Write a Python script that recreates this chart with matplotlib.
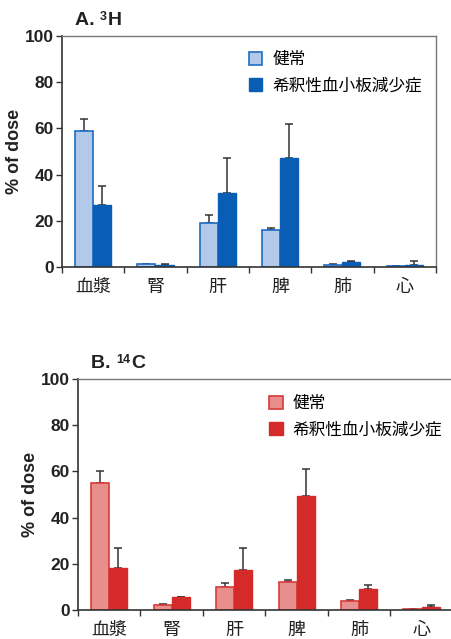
import matplotlib
matplotlib.use("Agg")
import matplotlib.pyplot as plt
import numpy as np

plt.rcParams['font.family'] = ['Liberation Sans', 'Noto Sans CJK SC', 'DejaVu Sans']

categories = ['血漿', '腎', '肝', '脾', '肺', '心']
series_names = ['健常', '希釈性血小板減少症']

h3_normal = [59, 1.2, 19, 16, 1.0, 0.3]
h3_normal_err = [5, 0.3, 3.5, 0.8, 0.5, 0.1]
h3_dilut = [27, 0.8, 32, 47, 2.0, 1.0]
h3_dilut_err = [8, 0.4, 15, 15, 0.7, 1.5]

c14_normal = [55, 2.3, 10, 12, 3.7, 0.3]
c14_normal_err = [5, 0.5, 1.5, 1.0, 0.6, 0.2]
c14_dilut = [18, 5.5, 17.5, 49.5, 9.0, 1.3]
c14_dilut_err = [9, 0.3, 9.5, 11.5, 2.0, 0.7]

yticks = [0, 20, 40, 60, 80, 100]

fig = plt.figure(figsize=(4.51, 6.39), dpi=100)

panels = [
    dict(rect=[0.1375, 0.582, 0.829, 0.3617], title=('A. ', '3', 'H'),
         a=h3_normal, ae=h3_normal_err, b=h3_dilut, be=h3_dilut_err,
         ca='#b3c9ea', ea='#1c6cc4', cb='#0a5db5', eb='#0a5db5', right=True,
         leg=(0.46, 1.0)),
    dict(rect=[0.173, 0.0454, 0.831, 0.3615], title=('B. ', '14', 'C'),
         a=c14_normal, ae=c14_normal_err, b=c14_dilut, be=c14_dilut_err,
         ca='#e88e8c', ea='#d63c3a', cb='#d52a2a', eb='#d52a2a', right=False,
         leg=(0.47, 0.995)),
]

x = np.arange(len(categories))
w = 0.29
for p in panels:
    ax = fig.add_axes(p['rect'])
    ax.bar(x - w/2, p['a'], w, color=p['ca'], edgecolor=p['ea'], linewidth=1.2,
           label=series_names[0], zorder=2)
    ax.bar(x + w/2, p['b'], w, color=p['cb'], edgecolor=p['eb'], linewidth=1.0,
           label=series_names[1], zorder=2)
    ax.errorbar(x - w/2, p['a'], yerr=[np.zeros(6), p['ae']], fmt='none',
                ecolor='#333333', elinewidth=1.1, capsize=3, capthick=1.1, zorder=1)
    ax.errorbar(x + w/2, p['b'], yerr=[np.zeros(6), p['be']], fmt='none',
                ecolor='#333333', elinewidth=1.1, capsize=3, capthick=1.1, zorder=1)
    ax.set_xlim(-0.5, len(categories) - 0.5)
    ax.set_ylim(0, 100)
    ax.set_yticks(yticks)
    ax.set_yticklabels([str(v) for v in yticks], fontsize=12.5, fontweight='bold',
                       color='#222222')
    ax.set_xticks(np.arange(len(categories) + 1) - 0.5)
    ax.set_xticklabels([])
    ax.set_xticks(x, minor=True)
    ax.set_xticklabels(categories, minor=True, fontsize=13,
                       family=['Noto Sans CJK JP', 'DejaVu Sans'], color='#222222')
    ax.tick_params(axis='x', which='minor', length=0, pad=8)
    ax.tick_params(axis='x', which='major', length=4, width=1, direction='out',
                   color='#333333')
    ax.tick_params(axis='y', length=4, width=1, direction='out', color='#333333', pad=2)
    ax.set_ylabel('% of dose', fontsize=13, fontweight='bold', color='#222222',
                  labelpad=1)
    for s in ['top', 'right']:
        ax.spines[s].set_color('#777777')
        ax.spines[s].set_linewidth(1.0)
    ax.spines['right'].set_visible(p['right'])
    ax.spines['left'].set_color('#333333')
    ax.spines['bottom'].set_color('#333333')
    ax.spines['left'].set_linewidth(1.2)
    ax.spines['bottom'].set_linewidth(1.2)
    # title with small superscript
    t1 = ax.text(0.035, 1.03, p['title'][0], transform=ax.transAxes, fontsize=14,
                 fontweight='bold', color='#222222', va='bottom', ha='left')
    fig.canvas.draw()
    bb = t1.get_window_extent().transformed(ax.transAxes.inverted())
    t2 = ax.text(bb.x1, 1.03 + 0.028, p['title'][1], transform=ax.transAxes,
                 fontsize=9, fontweight='bold', color='#222222', va='bottom', ha='left')
    fig.canvas.draw()
    bb2 = t2.get_window_extent().transformed(ax.transAxes.inverted())
    ax.text(bb2.x1 + 0.003, 1.03, p['title'][2], transform=ax.transAxes, fontsize=14,
            fontweight='bold', color='#222222', va='bottom', ha='left')
    leg = ax.legend(loc='upper left', bbox_to_anchor=p['leg'], frameon=False,
                    prop={'family': ['Noto Sans CJK JP', 'DejaVu Sans'], 'size': 12},
                    handlelength=0.8, handleheight=0.8, handletextpad=0.6,
                    labelspacing=0.55)

fig.savefig('out.png', dpi=100)
